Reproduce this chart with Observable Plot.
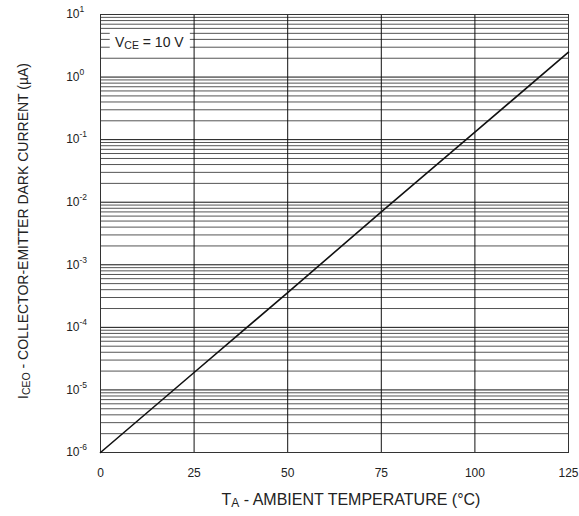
<!DOCTYPE html>
<html>
<head>
<meta charset="utf-8">
<script src="https://cdn.jsdelivr.net/npm/d3@7"></script>
<script src="https://cdn.jsdelivr.net/npm/@observablehq/plot@0.6"></script>
<style>
  html, body { margin: 0; padding: 0; background: #fff; }
  svg { display: block; }
</style>
</head>
<body>
<div id="chart"></div>
<script>
// Data
const temperature = [0, 25, 50, 75, 100, 125];            // °C
const darkCurrent = [1e-6, 1.9e-5, 3.6e-4, 7e-3, 1.32e-1, 2.5]; // µA
const xTicks = [0, 25, 50, 75, 100, 125];
const yDecades = [1e-6, 1e-5, 1e-4, 1e-3, 1e-2, 1e-1, 1e0, 1e1];
const yExponents = ["-6", "-5", "-4", "-3", "-2", "-1", "0", "1"];
const minorMultipliers = [2, 3, 4, 5, 6, 7, 8, 9];

const data = temperature.map((t, i) => ({t, i: darkCurrent[i]}));
const minorGrid = [];
for (const d of yDecades.slice(0, -1)) for (const m of minorMultipliers) minorGrid.push(d * m);
const decadeLabels = yDecades.map((v, k) => ({v, e: yExponents[k]}));

const font = "'Liberation Sans', Arial, Helvetica, sans-serif";

const plot = Plot.plot({
  width: 579,
  height: 516,
  marginLeft: 100,
  marginRight: 11,
  marginTop: 14,
  marginBottom: 64,
  style: {fontFamily: font, fontSize: "11px", color: "#222", background: "#fff"},
  x: {domain: [0, 125], ticks: xTicks, label: null},
  y: {type: "log", domain: [1e-6, 1e1], label: null},
  marks: [
    Plot.ruleY(minorGrid, {stroke: "#555", strokeWidth: 1}),
    Plot.ruleY(yDecades, {stroke: "#111", strokeWidth: 1}),
    Plot.ruleX(xTicks, {stroke: "#111", strokeWidth: 1}),
    Plot.frame({stroke: "#333", strokeWidth: 1}),
    // white box for the annotation
    Plot.rect([{x1: 2.6, x2: 24, y1: 2.8, y2: 5.4}], {x1: "x1", x2: "x2", y1: "y1", y2: "y2", fill: "white"}),
    Plot.line(data, {x: "t", y: "i", stroke: "#111", strokeWidth: 1.6}),
    Plot.axisX(xTicks, {tickSize: 0, tickPadding: 16, fontSize: 12, tickFormat: d => String(d)}),
    Plot.axisY({ticks: [], tickSize: 0}),
    Plot.text(decadeLabels, {x: 0, y: "v", text: () => "10", textAnchor: "end", dx: -21, fontSize: 12}),
    Plot.text(decadeLabels, {x: 0, y: "v", text: "e", textAnchor: "start", dx: -21, dy: -5, fontSize: 8.5})
  ]
});

document.getElementById("chart").appendChild(plot);

// Axis titles and annotation with subscripts, positioned via the plot's scales
const svg = d3.select(plot);
const xs = plot.scale("x"), ys = plot.scale("y");

const yt = svg.append("text")
  .attr("transform", `translate(24,231) rotate(-90)`)
  .attr("text-anchor", "middle").attr("dominant-baseline", "middle")
  .attr("font-family", font).attr("font-size", 14).attr("fill", "#222");
yt.append("tspan").text("I");
yt.append("tspan").attr("font-size", 10.5).attr("dy", 3).text("CEO");
yt.append("tspan").attr("dy", -3).text(" - COLLECTOR-EMITTER DARK CURRENT (µA)");

const xt = svg.append("text")
  .attr("x", 351).attr("y", 501)
  .attr("text-anchor", "middle").attr("dominant-baseline", "middle")
  .attr("font-family", font).attr("font-size", 16).attr("fill", "#222");
xt.append("tspan").text("T");
xt.append("tspan").attr("font-size", 12).attr("dy", 3).text("A");
xt.append("tspan").attr("dy", -3).text(" - AMBIENT TEMPERATURE (°C)");

const at = svg.append("text")
  .attr("x", xs.apply(4.0)).attr("y", ys.apply(3.5))
  .attr("text-anchor", "start").attr("dominant-baseline", "middle")
  .attr("font-family", font).attr("font-size", 14).attr("fill", "#222");
at.append("tspan").text("V");
at.append("tspan").attr("font-size", 10.5).attr("dy", 3).text("CE");
at.append("tspan").attr("dy", -3).text(" = 10 V");
</script>
</body>
</html>
